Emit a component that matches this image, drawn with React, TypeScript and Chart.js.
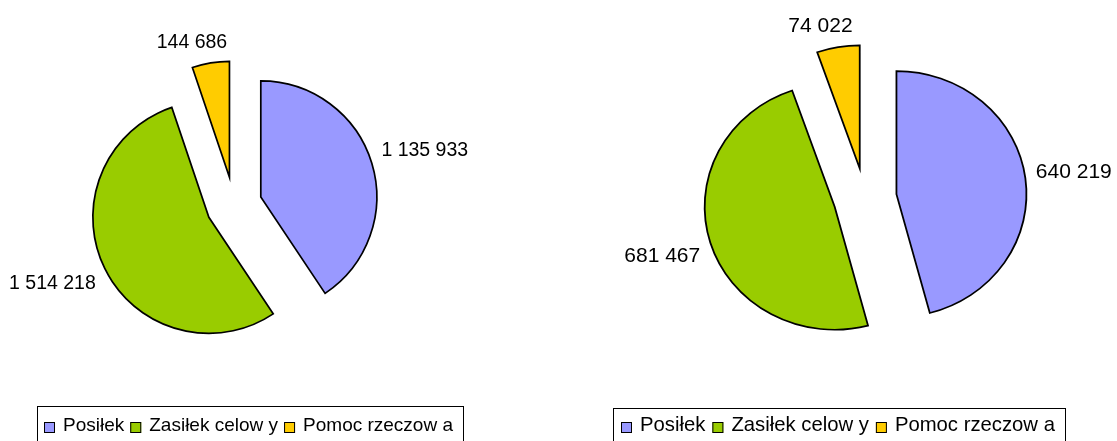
import React, { useEffect, useRef } from "react";
import { Chart, registerables } from "chart.js";

Chart.register(...registerables);

const categories = ["Posiłek", "Zasiłek celow y", "Pomoc rzeczow a"];
const valuesLeft = [1135933, 1514218, 144686];
const valuesRight = [640219, 681467, 74022];
const colors = ["#9999FF", "#99CC00", "#FFCC00"];

const FONT = '"Liberation Sans", Arial, sans-serif';

function fmt(v: number): string {
  return String(v).replace(/\B(?=(\d{3})+(?!\d))/g, " ");
}

const explodedPie = {
  id: "explodedPie",
  beforeDatasetDraw(chart: any, args: any, opts: any) {
    const ctx = chart.ctx;
    const ex = opts.explode || 0;
    const sx = opts.scaleX || 1;
    args.meta.data.forEach((arc: any) => {
      const mid = (arc.startAngle + arc.endAngle) / 2;
      ctx.save();
      ctx.translate(arc.x, arc.y);
      ctx.scale(sx, 1);
      ctx.translate(-arc.x, -arc.y);
      ctx.translate(Math.cos(mid) * ex, Math.sin(mid) * ex);
      arc.draw(ctx);
      ctx.restore();
    });
    return false;
  },
  afterDatasetsDraw(chart: any, _args: any, opts: any) {
    const ctx = chart.ctx;
    const ex = opts.explode || 0;
    const sx = opts.scaleX || 1;
    const fs = opts.labelFont;
    const meta = chart.getDatasetMeta(0);
    const data = chart.data.datasets[0].data as number[];
    ctx.save();
    ctx.font = `${fs}px ${FONT}`;
    ctx.fillStyle = "#000";
    ctx.textAlign = "center";
    ctx.textBaseline = "middle";
    meta.data.forEach((arc: any, i: number) => {
      const mid = (arc.startAngle + arc.endAngle) / 2;
      const dx = Math.cos(mid);
      const dy = Math.sin(mid);
      const d = ex + arc.outerRadius + opts.labelGap;
      const px = arc.x + dx * d * sx;
      const py = arc.y + dy * d;
      const text = fmt(data[i]);
      const w = ctx.measureText(text).width;
      const h = fs * 1.1;
      const fx = Math.max(-1, Math.min(1, dx * 3));
      const fy = Math.max(-1, Math.min(1, dy * 3));
      ctx.fillText(text, px + (fx * w) / 2, py + (fy * h) / 2);
    });
    ctx.restore();
  },
  afterDraw(chart: any, _args: any, opts: any) {
    const ctx = chart.ctx;
    const labels = chart.data.labels as string[];
    const bg = chart.data.datasets[0].backgroundColor as string[];
    const fs = opts.legendFont;
    const sq = 11;
    const sqGap = 8;
    const itemGap = opts.itemGap;
    const padL = opts.padL;
    const padR = 10;
    ctx.save();
    ctx.font = `${fs}px ${FONT}`;
    const widths = labels.map((l) => ctx.measureText(l).width);
    let total = padL + padR + itemGap * (labels.length - 1);
    widths.forEach((w) => (total += sq + sqGap + w));
    const left = Math.round(opts.legendCenter - total / 2);
    const top = opts.legendTop;
    ctx.strokeStyle = "#000";
    ctx.lineWidth = 1;
    ctx.strokeRect(left + 0.5, top + 0.5, Math.round(total), 80);
    let x = left + padL;
    ctx.textAlign = "left";
    ctx.textBaseline = "alphabetic";
    labels.forEach((l, i) => {
      ctx.fillStyle = bg[i];
      ctx.fillRect(x, opts.squareTop, sq, sq);
      ctx.strokeRect(x + 0.5, opts.squareTop + 0.5, sq - 1, sq - 1);
      ctx.fillStyle = "#000";
      ctx.fillText(l, x + sq + sqGap, opts.textBaseline);
      x += sq + sqGap + widths[i] + itemGap;
    });
    ctx.restore();
  },
};

type PieProps = {
  values: number[];
  left: number;
  width: number;
  radius: number;
  explode: number;
  scaleX: number;
  padding: { left: number; right: number; top: number; bottom: number };
  labelFont: number;
  legendFont: number;
  legendCenter: number;
  legendTop: number;
  itemGap: number;
  padL: number;
};

function Pie(p: PieProps) {
  const ref = useRef<HTMLCanvasElement | null>(null);
  useEffect(() => {
    if (!ref.current) return;
    const chart = new Chart(ref.current, {
      type: "pie",
      data: {
        labels: categories,
        datasets: [
          {
            data: p.values,
            backgroundColor: colors,
            borderColor: "#000",
            borderWidth: 1.7,
            borderJoinStyle: "miter",
            offset: 0,
            hoverOffset: 0,
          } as any,
        ],
      },
      options: {
        responsive: false,
        animation: false,
        events: [],
        radius: p.radius,
        layout: { padding: p.padding },
        plugins: {
          legend: { display: false },
          tooltip: { enabled: false },
          explodedPie: {
            explode: p.explode,
            scaleX: p.scaleX,
            labelFont: p.labelFont,
            labelGap: 10,
            legendFont: p.legendFont,
            legendCenter: p.legendCenter,
            legendTop: p.legendTop,
            squareTop: 422,
            textBaseline: 431,
            itemGap: p.itemGap,
            padL: p.padL,
          },
        } as any,
      } as any,
      plugins: [explodedPie as any],
    });
    return () => chart.destroy();
  }, []);
  return (
    <canvas
      ref={ref}
      width={p.width}
      height={441}
      style={{ position: "absolute", left: p.left, top: 0, width: p.width, height: 441 }}
    />
  );
}

export default function App() {
  return (
    <div
      style={{
        position: "absolute",
        left: 0,
        top: 0,
        width: 1117,
        height: 441,
        background: "#fff",
        overflow: "hidden",
      }}
    >
      <Pie
        values={valuesLeft}
        left={0}
        width={558}
        radius={116}
        explode={28}
        scaleX={1}
        padding={{ left: 0, right: 90, top: 0, bottom: 31 }}
        labelFont={19.5}
        legendFont={19}
        legendCenter={250}
        legendTop={406}
        itemGap={6}
        padL={7}
      />
      <Pie
        values={valuesRight}
        left={558}
        width={559}
        radius={123}
        explode={30}
        scaleX={1.057}
        padding={{ left: 55, right: 0, top: 0, bottom: 45 }}
        labelFont={21}
        legendFont={20.3}
        legendCenter={280.5}
        legendTop={408}
        itemGap={7}
        padL={8}
      />
    </div>
  );
}
